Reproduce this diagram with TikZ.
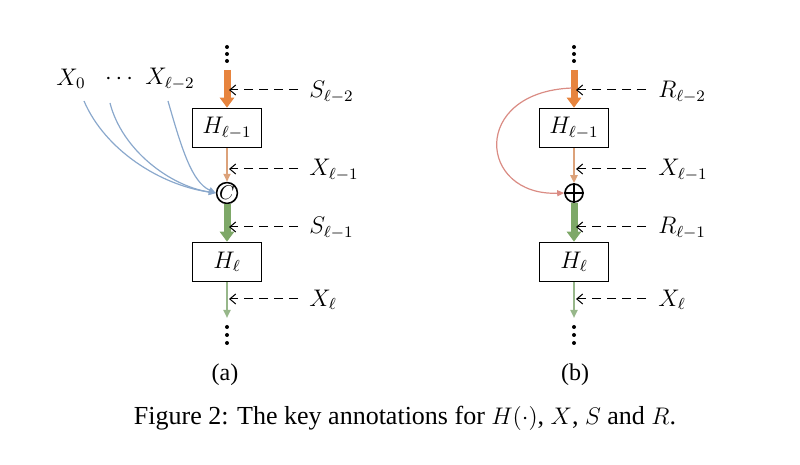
\documentclass[tikz,border=0pt]{standalone}
\usepackage{fontspec}
\setmainfont{Liberation Serif}
\usetikzlibrary{arrows.meta}
\definecolor{orthick}{HTML}{E7843E}
\definecolor{orthin}{HTML}{DCA27A}
\definecolor{grthick}{HTML}{7EA868}
\definecolor{grthin}{HTML}{97B78A}
\definecolor{bluec}{HTML}{8AA8CC}
\definecolor{pinkc}{HTML}{DA8C84}
\begin{document}
\begin{tikzpicture}[x=0.5pt,y=-0.5pt,font=\large,
  blockbox/.style={draw,line width=0.8pt,minimum width=34.5pt,minimum height=19.5pt,inner sep=0pt,fill=white},
  opnode/.style={draw,circle,line width=0.8pt,minimum size=9pt,inner sep=0pt,fill=white},
  lab/.style={anchor=west,inner sep=0pt},
  thickarr/.style={line width=3.5pt,-{Triangle[length=5pt,width=7pt]}},
  thinarr/.style={line width=1pt,-{Triangle[length=4pt,width=3.5pt]}},
  dasharr/.style={dash pattern=on 4.5pt off 3pt,line width=0.5pt,-{Straight Barb[length=3pt,width=5pt]}},
  curvearr/.style={line width=0.6pt,-{Triangle[length=3.5pt,width=3pt]}}]
\useasboundingbox (0,0) rectangle (800,465);
% ---------------- panel (a) ----------------
\foreach \yy in {47,54,61} \fill (227,\yy) circle (2);
\coordinate (aTop) at (227,70);
\node[blockbox] (aH1) at (227,128) {$H_{\ell-1}$};
\node[opnode,font=\normalsize] (aC) at (227,193) {$C$};
\node[blockbox] (aH2) at (227,262) {$H_{\ell}$};
\coordinate (aBot) at (227,318);
\foreach \yy in {327,335,343} \fill (227,\yy) circle (2);
\draw[thickarr,orthick] (aTop) -- (aH1.north);
\draw[thinarr,orthin] (aH1.south) -- (aC.north);
\draw[thickarr,grthick] (aC.south) -- (aH2.north);
\draw[thinarr,grthin] (aH2.south) -- (aBot);
% labels and dashed pointers
\node[lab] (aS2) at (309,92) {$S_{\ell-2}$};
\node[lab] (aX1) at (309,170) {$X_{\ell-1}$};
\node[lab] (aS1) at (309,228) {$S_{\ell-1}$};
\node[lab] (aX) at (309,300) {$X_{\ell}$};
\coordinate (aP1) at (229,90);
\coordinate (aP2) at (229,169);
\coordinate (aP3) at (229,227);
\coordinate (aP4) at (229,299);
\draw[dasharr] (aS2.west) ++(-11,-2) -- (aP1);
\draw[dasharr] (aX1.west) ++(-11,-1) -- (aP2);
\draw[dasharr] (aS1.west) ++(-11,-1) -- (aP3);
\draw[dasharr] (aX.west) ++(-11,-1) -- (aP4);
% left inputs
\node (x0) at (71,79) {$X_0$};
\node (xd) at (119,79) {$\cdots$};
\node (x2) at (170,79) {$X_{\ell-2}$};
\draw[curvearr,bluec] (84,101) .. controls (105,150) and (160,185) .. (aC.west);
\draw[curvearr,bluec] (110,103) .. controls (122,150) and (170,186) .. (aC.west);
\draw[curvearr,bluec] (168,101) .. controls (182,150) and (192,182) .. (aC.west);
\node (la) at (225,375) {(a)};
% ---------------- panel (b) ----------------
\foreach \yy in {47,54,61} \fill (574,\yy) circle (2);
\coordinate (bTop) at (574,70);
\node[blockbox] (bH1) at (574,128) {$H_{\ell-1}$};
\node[opnode] (bP) at (574,193) {};
\draw[line width=0.8pt] (bP.north) -- (bP.south) (bP.west) -- (bP.east);
\node[blockbox] (bH2) at (574,262) {$H_{\ell}$};
\coordinate (bBot) at (574,318);
\foreach \yy in {327,335,343} \fill (574,\yy) circle (2);
\draw[thickarr,orthick] (bTop) -- (bH1.north);
\draw[thinarr,orthin] (bH1.south) -- (bP.north);
\draw[thickarr,grthick] (bP.south) -- (bH2.north);
\draw[thinarr,grthin] (bH2.south) -- (bBot);
\coordinate (bSrc) at (572,88);
\draw[curvearr,pinkc] (bSrc) .. controls (470,92) and (478,196) .. (bP.west);
\node[lab] (bR2) at (658,92) {$R_{\ell-2}$};
\node[lab] (bX1) at (658,170) {$X_{\ell-1}$};
\node[lab] (bR1) at (658,228) {$R_{\ell-1}$};
\node[lab] (bX) at (658,300) {$X_{\ell}$};
\coordinate (bP1) at (576,90);
\coordinate (bP2) at (576,169);
\coordinate (bP3) at (576,227);
\coordinate (bP4) at (576,299);
\draw[dasharr] (bR2.west) ++(-12,-2) -- (bP1);
\draw[dasharr] (bX1.west) ++(-12,-1) -- (bP2);
\draw[dasharr] (bR1.west) ++(-12,-1) -- (bP3);
\draw[dasharr] (bX.west) ++(-12,-1) -- (bP4);
\node (lb) at (575,375) {(b)};
% caption
\node[font=\fontsize{13}{15}\selectfont] (cap) at (405,418) {Figure 2: The key annotations for $H(\cdot)$, $X$, $S$ and $R$.};
\end{tikzpicture}
\end{document}
